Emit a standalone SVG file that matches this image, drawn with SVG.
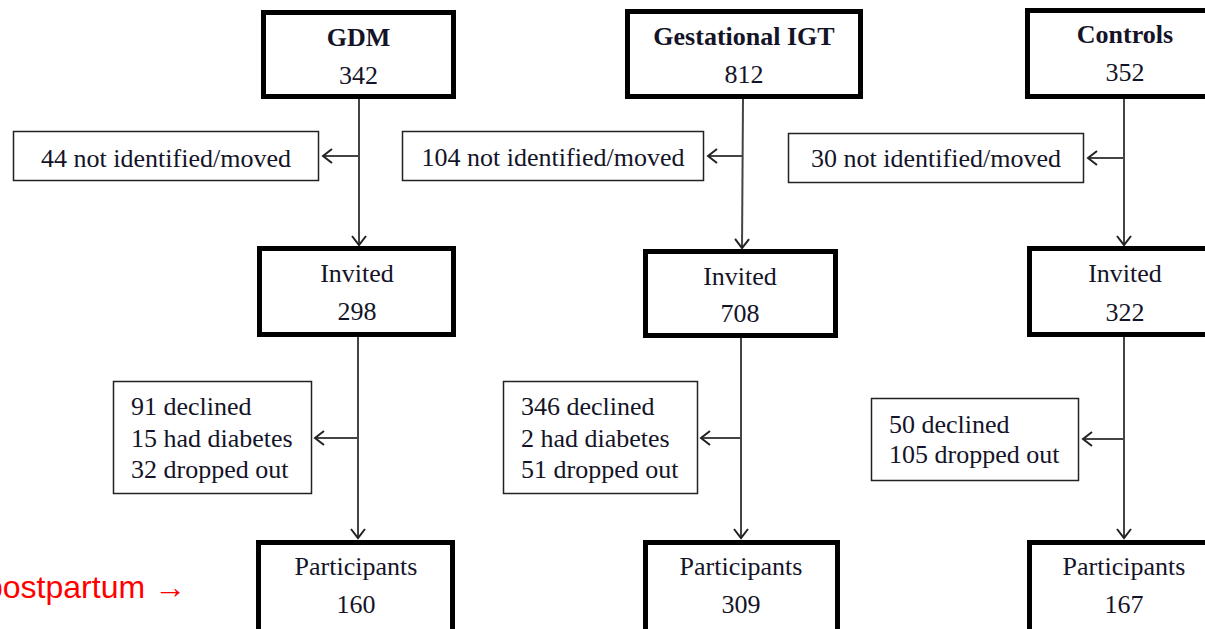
<svg xmlns="http://www.w3.org/2000/svg" width="1205" height="629" viewBox="0 0 1205 629">
  <defs>
    <marker id="arr" markerUnits="userSpaceOnUse" markerWidth="14" markerHeight="18" refX="10" refY="8" orient="auto">
      <path d="M1,1 L10,8 L1,15" fill="none" stroke="#222" stroke-width="2"/>
    </marker>
    <style>
      .thick { fill: #fff; stroke: #000; stroke-width: 5; }
      .thin { fill: #fff; stroke: #222; stroke-width: 1.5; }
      .t { font-family: "Liberation Serif", "Times New Roman", serif; font-size: 26px; fill: #141428; }
      .c { text-anchor: middle; }
      .b { font-weight: bold; }
      .ln { fill: none; stroke: #444; stroke-width: 2; }
      .red { font-family: "Liberation Sans", Arial, sans-serif; font-size: 32px; fill: #ff0000; }
    </style>
  </defs>
  <rect width="1205" height="629" fill="#fff"/>

  <g id="connectors">
    <line class="ln" x1="359" y1="99" x2="359" y2="245" marker-end="url(#arr)"/>
    <line class="ln" x1="359" y1="156" x2="323" y2="156" marker-end="url(#arr)"/>
    <line class="ln" x1="358" y1="337" x2="358" y2="538" marker-end="url(#arr)"/>
    <line class="ln" x1="358" y1="438" x2="315" y2="438" marker-end="url(#arr)"/>

    <line class="ln" x1="743" y1="99" x2="742" y2="248" marker-end="url(#arr)"/>
    <line class="ln" x1="743" y1="156" x2="708" y2="156" marker-end="url(#arr)"/>
    <line class="ln" x1="741" y1="338" x2="741" y2="538" marker-end="url(#arr)"/>
    <line class="ln" x1="741" y1="438" x2="701" y2="438" marker-end="url(#arr)"/>

    <line class="ln" x1="1124" y1="99" x2="1124" y2="245" marker-end="url(#arr)"/>
    <line class="ln" x1="1124" y1="158" x2="1088" y2="158" marker-end="url(#arr)"/>
    <line class="ln" x1="1124" y1="337" x2="1124" y2="538" marker-end="url(#arr)"/>
    <line class="ln" x1="1124" y1="439" x2="1083" y2="439" marker-end="url(#arr)"/>
  </g>

  <g id="gdm">
    <rect class="thick" x="263.5" y="12.5" width="190" height="84"/>
    <text class="t c b" x="358.5" y="46">GDM</text>
    <text class="t c" x="358.5" y="84">342</text>
  </g>
  <g id="igt">
    <rect class="thick" x="627.5" y="11.5" width="233" height="85"/>
    <text class="t c b" x="744" y="45">Gestational IGT</text>
    <text class="t c" x="744" y="83">812</text>
  </g>
  <g id="controls">
    <rect class="thick" x="1027.5" y="10.5" width="195" height="86"/>
    <text class="t c b" x="1125" y="43">Controls</text>
    <text class="t c" x="1125" y="81">352</text>
  </g>

  <g id="gdm-excluded">
    <rect class="thin" x="13.5" y="131.5" width="305" height="49"/>
    <text class="t c" x="166" y="167">44 not identified/moved</text>
  </g>
  <g id="igt-excluded">
    <rect class="thin" x="402.5" y="131.5" width="301" height="49"/>
    <text class="t c" x="553" y="166">104 not identified/moved</text>
  </g>
  <g id="controls-excluded">
    <rect class="thin" x="788.5" y="133.5" width="295" height="49"/>
    <text class="t c" x="936" y="167">30 not identified/moved</text>
  </g>

  <g id="gdm-invited">
    <rect class="thick" x="259.5" y="248.5" width="194" height="86"/>
    <text class="t c" x="357" y="282">Invited</text>
    <text class="t c" x="357" y="320">298</text>
  </g>
  <g id="igt-invited">
    <rect class="thick" x="645.5" y="251.5" width="190" height="84"/>
    <text class="t c" x="740" y="285">Invited</text>
    <text class="t c" x="740" y="322">708</text>
  </g>
  <g id="controls-invited">
    <rect class="thick" x="1029.5" y="248.5" width="195" height="86"/>
    <text class="t c" x="1125" y="282">Invited</text>
    <text class="t c" x="1125" y="321">322</text>
  </g>

  <g id="gdm-lost">
    <rect class="thin" x="113.5" y="381.5" width="198" height="112"/>
    <text class="t" x="131" y="415">91 declined</text>
    <text class="t" x="131" y="447">15 had diabetes</text>
    <text class="t" x="131" y="478">32 dropped out</text>
  </g>
  <g id="igt-lost">
    <rect class="thin" x="503.5" y="381.5" width="194" height="112"/>
    <text class="t" x="521" y="415">346 declined</text>
    <text class="t" x="521" y="447">2 had diabetes</text>
    <text class="t" x="521" y="478">51 dropped out</text>
  </g>
  <g id="controls-lost">
    <rect class="thin" x="871.5" y="398.5" width="207" height="82"/>
    <text class="t" x="889" y="433">50 declined</text>
    <text class="t" x="889" y="463">105 dropped out</text>
  </g>

  <g id="gdm-participants">
    <rect class="thick" x="258.5" y="542.5" width="194" height="100"/>
    <text class="t c" x="356" y="575">Participants</text>
    <text class="t c" x="356" y="613">160</text>
  </g>
  <g id="igt-participants">
    <rect class="thick" x="645.5" y="542.5" width="192" height="100"/>
    <text class="t c" x="741" y="575">Participants</text>
    <text class="t c" x="741" y="613">309</text>
  </g>
  <g id="controls-participants">
    <rect class="thick" x="1029.5" y="542.5" width="195" height="100"/>
    <text class="t c" x="1124" y="575">Participants</text>
    <text class="t c" x="1124" y="613">167</text>
  </g>

  <g id="postpartum-label">
    <text class="red" x="-15" y="598">postpartum →</text>
  </g>
</svg>
